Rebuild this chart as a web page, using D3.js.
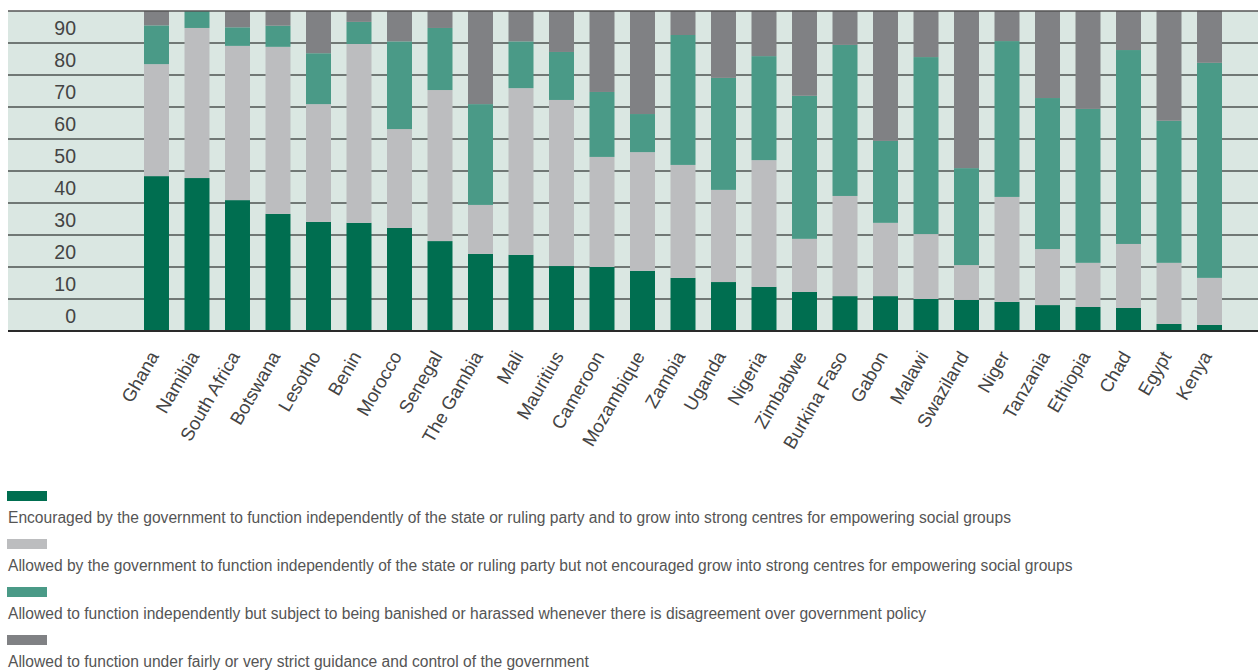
<!DOCTYPE html>
<html>
<head>
<meta charset="utf-8">
<script src="https://cdn.jsdelivr.net/npm/d3@7"></script>
<style>
  html, body { margin: 0; padding: 0; background: #ffffff; }
  svg { display: block; font-family: "Liberation Sans", Arial, Helvetica, sans-serif; }
</style>
</head>
<body>
<svg id="chart" width="1258" height="670"></svg>
<script>
const countries = ["Ghana","Namibia","South Africa","Botswana","Lesotho","Benin","Morocco","Senegal","The Gambia","Mali","Mauritius","Cameroon","Mozambique","Zambia","Uganda","Nigeria","Zimbabwe","Burkina Faso","Gabon","Malawi","Swaziland","Niger","Tanzania","Ethiopia","Chad","Egypt","Kenya"];

const encouraged = [48.4,47.8,40.9,36.6,34.1,33.8,32.2,28.1,24.1,23.8,20.3,20.0,18.8,16.6,15.3,13.8,12.2,10.9,10.9,10.0,9.7,9.1,8.1,7.5,7.2,2.2,1.9];
const allowed    = [35.0,46.9,48.2,52.2,36.8,55.9,30.9,47.2,15.3,52.1,51.9,34.4,37.1,35.3,28.8,39.6,16.6,31.3,22.9,20.3,10.9,32.8,17.5,13.8,20.0,19.1,14.7];
const harassed   = [12.1,5.3,5.8,6.6,15.9,6.9,27.4,19.4,31.5,14.6,15.0,20.3,11.9,40.6,35.0,32.5,44.7,47.2,25.6,55.3,30.3,48.7,47.2,48.1,60.6,44.4,67.2];
const controlled = [4.5,0,5.1,4.7,13.2,3.4,9.5,5.3,29.1,9.5,12.8,25.3,32.2,7.5,20.9,14.1,26.6,10.6,40.6,14.4,49.1,9.4,27.2,30.6,12.2,34.4,16.25];

const yTickLabels = [0,10,20,30,40,50,60,70,80,90];

const seriesKeys = ["encouraged","allowed","harassed","controlled"];
const seriesLabels = [
  "Encouraged by the government to function independently of the state or ruling party and to grow into strong centres for empowering social groups",
  "Allowed by the government to function independently of the state or ruling party but not encouraged grow into strong centres for empowering social groups",
  "Allowed to function independently but subject to being banished or harassed whenever there is disagreement over government policy",
  "Allowed to function under fairly or very strict guidance and control of the government"
];
const seriesColors = ["#006e50","#bcbdbf","#4a9a87","#808184"];

const rows = countries.map((c, i) => ({
  country: c,
  encouraged: encouraged[i],
  allowed: allowed[i],
  harassed: harassed[i],
  controlled: controlled[i]
}));

const svg = d3.select("#chart");
const plotLeft = 8, plotRight = 1258, plotTop = 11, plotBottom = 331;

const x = d3.scaleBand().domain(countries).range([144, 1222]).paddingInner(0.383).paddingOuter(0);
const y = d3.scaleLinear().domain([0, 100]).range([plotBottom, plotTop]);
const color = d3.scaleOrdinal().domain(seriesKeys).range(seriesColors);

// background
svg.append("rect")
  .attr("x", plotLeft).attr("y", plotTop)
  .attr("width", plotRight - plotLeft).attr("height", plotBottom - plotTop)
  .attr("fill", "#dae7e2");

// gridlines
const gridVals = d3.range(10, 100, 10);
svg.append("g").selectAll("line").data(gridVals).join("line")
  .attr("x1", plotLeft).attr("x2", plotRight)
  .attr("y1", d => y(d)).attr("y2", d => y(d))
  .attr("stroke", "#4c5350").attr("stroke-width", 1.5);

// y labels (centered in bands)
svg.append("g").selectAll("text").data(yTickLabels).join("text")
  .attr("x", 76)
  .attr("y", d => y(d + 5) + 8)
  .attr("text-anchor", "end")
  .attr("font-size", 19.5)
  .attr("fill", "#444")
  .text(d => d);

// stacked bars
const stack = d3.stack().keys(seriesKeys);
const stacked = stack(rows);
svg.append("g").selectAll("g").data(stacked).join("g")
  .attr("fill", d => color(d.key))
  .selectAll("rect").data(d => d).join("rect")
  .attr("x", d => x(d.data.country))
  .attr("width", x.bandwidth())
  .attr("y", d => y(d[1]))
  .attr("height", d => Math.max(0, y(d[0]) - y(d[1])));

// top and bottom borders
svg.append("line").attr("x1", plotLeft).attr("x2", plotRight)
  .attr("y1", plotTop).attr("y2", plotTop)
  .attr("stroke", "#555").attr("stroke-width", 1.5);
svg.append("line").attr("x1", plotLeft).attr("x2", plotRight)
  .attr("y1", plotBottom).attr("y2", plotBottom)
  .attr("stroke", "#2a2a2a").attr("stroke-width", 2);

// x labels
svg.append("g").selectAll("text").data(countries).join("text")
  .attr("transform", d => `translate(${x(d) + x.bandwidth() / 2 + 3},${356}) rotate(-60)`)
  .attr("text-anchor", "end")
  .attr("font-size", 18.5)
  .attr("fill", "#444")
  .text(d => d);

// legend
const legend = svg.append("g").selectAll("g").data(seriesKeys).join("g")
  .attr("transform", (d, i) => `translate(7,${491 + i * 48})`);
legend.append("rect").attr("x", 0).attr("y", 0).attr("width", 40).attr("height", 10)
  .attr("fill", d => color(d));
legend.append("text").attr("x", 1).attr("y", 32)
  .attr("font-size", 15.6).attr("fill", "#555")
  .text((d, i) => seriesLabels[i]);
</script>
</body>
</html>
